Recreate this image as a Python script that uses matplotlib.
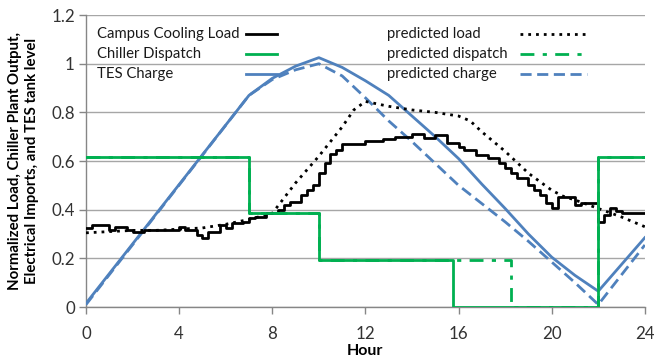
import numpy as np
import matplotlib
matplotlib.use("Agg")
import matplotlib.pyplot as plt
from matplotlib.lines import Line2D

plt.rcParams["font.family"] = ["Lato", "DejaVu Sans"]

# campus cooling load, 15-minute steps (96 values)
load_actual = [
    0.323, 0.337, 0.337, 0.337,  0.316, 0.330, 0.330, 0.316,
    0.310, 0.310, 0.316, 0.316,  0.316, 0.316, 0.316, 0.316,
    0.330, 0.316, 0.316, 0.296,  0.285, 0.310, 0.310, 0.337,
    0.323, 0.344, 0.344, 0.350,  0.364, 0.371, 0.371, 0.385,
    0.385, 0.400, 0.420, 0.433,  0.433, 0.460, 0.481, 0.500,
    0.550, 0.590, 0.630, 0.645,  0.669, 0.669, 0.669, 0.669,
    0.682, 0.682, 0.682, 0.690,  0.690, 0.697, 0.697, 0.697,
    0.710, 0.710, 0.696, 0.696,  0.707, 0.707, 0.673, 0.673,
    0.659, 0.645, 0.645, 0.625,  0.625, 0.611, 0.611, 0.590,
    0.570, 0.550, 0.529, 0.529,  0.500, 0.480, 0.460, 0.426,
    0.406, 0.453, 0.453, 0.453,  0.420, 0.426, 0.426, 0.426,
    0.350, 0.378, 0.405, 0.395,  0.386, 0.386, 0.388, 0.388,
]
load_hours = [i * 0.25 for i in range(97)]

pred_load_hours = [0, 1, 2, 3, 4, 5, 6, 7, 8, 9, 10, 11, 11.5, 12, 13, 14, 15, 16,
                   16.5, 17, 18, 19, 20, 20.5, 21, 22, 23, 24]
pred_load = [0.305, 0.31, 0.315, 0.315, 0.32, 0.325, 0.34, 0.36, 0.385, 0.51, 0.62,
             0.74, 0.81, 0.845, 0.825, 0.81, 0.80, 0.785, 0.765, 0.72, 0.64, 0.55,
             0.48, 0.455, 0.44, 0.405, 0.37, 0.33]

dispatch_hours = [0, 7, 10, 15.75, 22, 24]
dispatch = [0.615, 0.385, 0.195, 0.0, 0.615, 0.615]
pred_dispatch_hours = [0, 7, 10, 18.25, 22, 24]
pred_dispatch = [0.615, 0.385, 0.195, 0.0, 0.615, 0.615]

tes_hours = [0, 7, 8, 9, 10, 11, 12, 13, 14, 15, 16, 17, 18, 19, 20, 21, 22, 24]
tes_charge = [0.015, 0.87, 0.94, 0.99, 1.025, 0.985, 0.93, 0.87, 0.785, 0.70, 0.61,
              0.505, 0.405, 0.30, 0.205, 0.13, 0.065, 0.285]
pred_charge = [0.01, 0.87, 0.935, 0.975, 1.0, 0.95, 0.86, 0.765, 0.68, 0.59, 0.50,
               0.425, 0.35, 0.27, 0.185, 0.10, 0.01, 0.255]

BLACK = "#000000"
GREEN = "#00b050"
BLUE = "#4f81bd"
GRID = "#a6a6a6"

fig = plt.figure(figsize=(6.54, 3.59), dpi=100)
ax = fig.add_axes([0.1315, 0.1448, 0.8545, 0.8132])

styles = {
    "Campus Cooling Load": dict(color=BLACK, lw=2.0, ls="-"),
    "Chiller Dispatch": dict(color=GREEN, lw=2.0, ls="-"),
    "TES Charge": dict(color=BLUE, lw=2.0, ls="-"),
    "predicted load": dict(color=BLACK, lw=2.0, ls=(0, (1, 1.8))),
    "predicted dispatch": dict(color=GREEN, lw=2.0, ls=(0, (5, 3, 1.5, 3))),
    "predicted charge": dict(color=BLUE, lw=2.0, ls=(0, (4, 2))),
}

load_steps = load_actual + [load_actual[-1]]
ax.plot(tes_hours, tes_charge, zorder=3, **styles["TES Charge"])
ax.plot(tes_hours, pred_charge, zorder=3, **styles["predicted charge"])
ax.plot(load_hours, load_steps, drawstyle="steps-post", zorder=4,
        **styles["Campus Cooling Load"])
ax.plot(pred_load_hours, pred_load, zorder=4, **styles["predicted load"])
ax.plot(pred_dispatch_hours, pred_dispatch, drawstyle="steps-post", zorder=4.5,
        **styles["predicted dispatch"])
ax.plot(dispatch_hours, dispatch, drawstyle="steps-post", zorder=5,
        **styles["Chiller Dispatch"])

ax.set_xlim(0, 24)
ax.set_ylim(0, 1.2)
ax.set_xticks(range(0, 25, 4))
ax.set_yticks([0, 0.2, 0.4, 0.6, 0.8, 1.0, 1.2])
ax.set_yticklabels(["0", "0.2", "0.4", "0.6", "0.8", "1", "1.2"])
ax.grid(axis="y", color=GRID, lw=1.0)
ax.set_axisbelow(True)
for s in ["top", "right"]:
    ax.spines[s].set_visible(False)
for s in ["left", "bottom"]:
    ax.spines[s].set_color("#868686")
    ax.spines[s].set_linewidth(1.0)
ax.tick_params(axis="both", colors="#868686", labelcolor="#333333", labelsize=12.2,
               length=5, width=1.0)
ax.tick_params(axis="x", pad=9)
ax.tick_params(axis="y", pad=3)

fig.text(0.558, 0.022, "Hour", ha="center", va="center", fontsize=11.5, fontweight="bold")
fig.text(0.036, 0.552,
         "Normalized Load, Chiller Plant Output,\nElectrical Imports, and TES tank level",
         rotation=90, ha="center", va="center", fontsize=10.8, fontweight="bold",
         linespacing=1.25)

# legends: label text first, line sample after it
rows_y = [0.935, 0.866, 0.798]
left_names = ["Campus Cooling Load", "Chiller Dispatch", "TES Charge"]
right_names = ["predicted load", "predicted dispatch", "predicted charge"]
for names, tx, hx0, hx1 in [(left_names, 0.020, 0.286, 0.342),
                            (right_names, 0.538, 0.776, 0.896)]:
    for name, yy in zip(names, rows_y):
        ax.text(tx, yy, name, transform=ax.transAxes, ha="left", va="center",
                fontsize=10.7, color="#1a1a1a")
        ax.add_line(Line2D([hx0, hx1], [yy, yy], transform=ax.transAxes,
                           **styles[name]))

fig.savefig("out.png", dpi=100)
